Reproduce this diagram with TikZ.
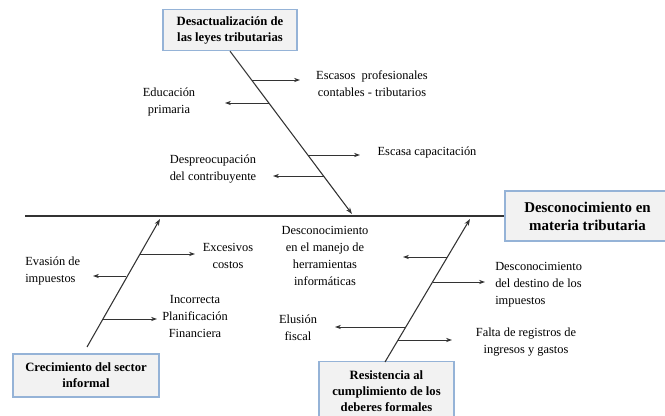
\documentclass[tikz,border=0pt]{standalone}
\usepackage{fontspec}
\setmainfont{Liberation Serif}
\usetikzlibrary{arrows.meta}
\definecolor{boxblue}{HTML}{95B3D7}
\definecolor{boxgray}{HTML}{F2F2F2}
\definecolor{linegray}{HTML}{333333}
\begin{document}
\begin{tikzpicture}[x=0.75pt,y=-0.75pt,
  causebox/.style={draw=boxblue, fill=boxgray, line width=1pt, align=center, inner sep=0pt,
    font=\fontsize{9.5}{12}\selectfont\bfseries},
  effbox/.style={causebox, font=\fontsize{11.2}{13.5}\selectfont\bfseries},
  lbl/.style={align=center, inner sep=0pt, font=\fontsize{9.3}{12.75}\selectfont},
  spine/.style={draw=linegray, line width=1.1pt},
  bone/.style={draw=linegray, line width=0.8pt, -{Stealth[length=5pt,width=3.5pt]}},
  sub/.style={draw=linegray, line width=0.7pt, -{Stealth[length=4.5pt,width=3.2pt]}}]
\useasboundingbox (0,0) rectangle (665,416);
\clip (0,0) rectangle (665,416);

% boxes
\node[causebox, minimum width=100.5pt, minimum height=30.75pt] (c1) at (230,30)
  {Desactualización de\\las leyes tributarias};
\node[effbox, minimum width=123.75pt, minimum height=37.5pt] (eff) at (587.5,216)
  {Desconocimiento en\\materia tributaria};
\node[causebox, minimum width=109.5pt, minimum height=32.25pt] (c2) at (86,375.5)
  {Crecimiento del sector\\informal};
\node[causebox, minimum width=101.25pt, minimum height=44.25pt] (c3) at (386.5,391)
  {Resistencia al\\cumplimiento de los\\deberes formales};

% spine
\coordinate (s0) at (25,216);
\draw[spine] (s0) -- (eff.west);

% bones
\coordinate (t1) at (352,214);
\draw[bone] (c1.south) -- (t1);
\coordinate (b2) at (87,347);
\coordinate (t2) at (160,219);
\draw[bone] (b2) -- (t2);
\coordinate (b3) at (385,362);
\coordinate (t3) at (470,219);
\draw[bone] (b3) -- (t3);

% labels top bone
\node[lbl] (l11) at (372,83.5) {Escasos\ \ profesionales\\contables - tributarios};
\node[lbl] (l12) at (169,102.5) {Educación\\primaria};
\node[lbl] (l13) at (427,153) {Escasa capacitación};
\node[lbl] (l14) at (213,169) {Despreocupación\\del contribuyente};
\coordinate (p11) at (252,80);   \coordinate (q11) at (300,80);
\coordinate (p12) at (269,103);  \coordinate (q12) at (225,103);
\coordinate (p13) at (308,155);  \coordinate (q13) at (360,155);
\coordinate (p14) at (323.6,176);\coordinate (q14) at (273,176);
\draw[sub] (p11) -- (q11);
\draw[sub] (p12) -- (q12);
\draw[sub] (p13) -- (q13);
\draw[sub] (p14) -- (q14);

% labels bottom-left bone
\node[lbl] (l21) at (228,256) {Excesivos\\costos};
\node[lbl, align=left, anchor=west] (l22) at (25,271.5) {Evasión de\\impuestos};
\node[lbl] (l23) at (195,317) {Incorrecta\\Planificación\\Financiera};
\coordinate (p21) at (140,254);   \coordinate (q21) at (195,254);
\coordinate (p22) at (126,276);   \coordinate (q22) at (93,276);
\coordinate (p23) at (103,319);   \coordinate (q23) at (157,319);
\draw[sub] (p21) -- (q21);
\draw[sub] (p22) -- (q22);
\draw[sub] (p23) -- (q23);

% labels bottom-right bone
\node[lbl] (l31) at (325,256) {Desconocimiento\\en el manejo de\\herramientas\\informáticas};
\node[lbl, align=left, anchor=west] (l32) at (495,285) {Desconocimiento\\del destino de los\\impuestos};
\node[lbl] (l33) at (298,328) {Elusión\\fiscal};
\node[lbl] (l34) at (526,342) {Falta de registros de\\ingresos y gastos};
\coordinate (p31) at (447.4,257); \coordinate (q31) at (403,257);
\coordinate (p32) at (432.6,282); \coordinate (q32) at (485,282);
\coordinate (p33) at (405.8,327); \coordinate (q33) at (335,327);
\coordinate (p34) at (398,340);   \coordinate (q34) at (452,340);
\draw[sub] (p31) -- (q31);
\draw[sub] (p32) -- (q32);
\draw[sub] (p33) -- (q33);
\draw[sub] (p34) -- (q34);
\end{tikzpicture}
\end{document}
